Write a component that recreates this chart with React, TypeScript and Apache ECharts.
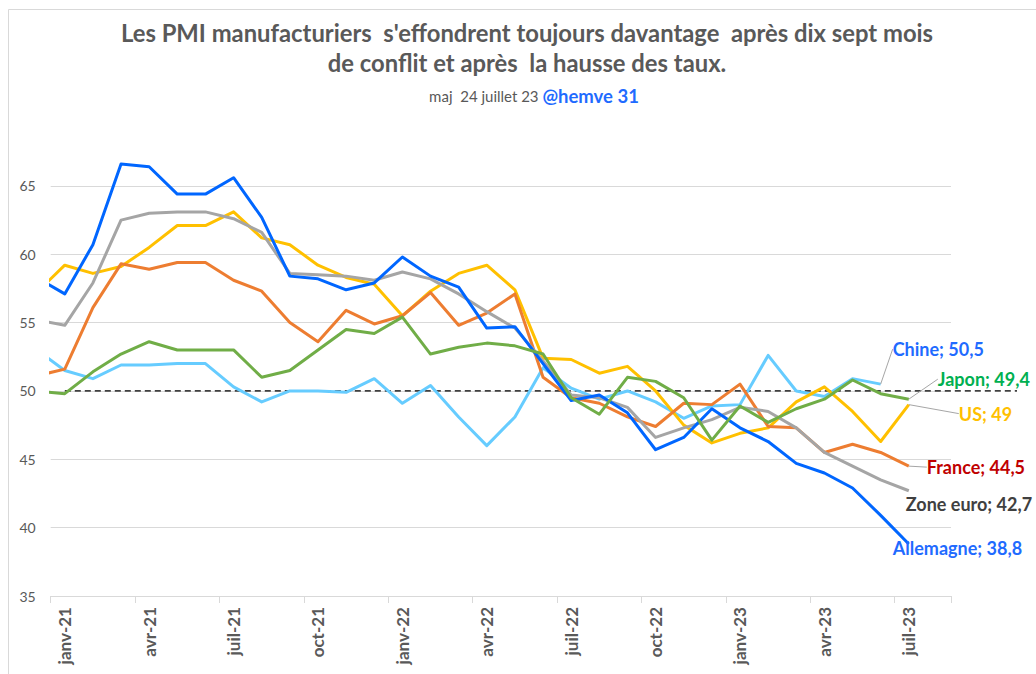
import React, { useEffect, useRef } from "react";
import * as echarts from "echarts";

const MONTHS = [
  "déc-20",
  "janv-21", "févr-21", "mars-21", "avr-21", "mai-21", "juin-21", "juil-21", "août-21", "sept-21", "oct-21", "nov-21", "déc-21",
  "janv-22", "févr-22", "mars-22", "avr-22", "mai-22", "juin-22", "juil-22", "août-22", "sept-22", "oct-22", "nov-22", "déc-22",
  "janv-23", "févr-23", "mars-23", "avr-23", "mai-23", "juin-23", "juil-23", "août-23",
];

const CHINE = [53.0, 51.5, 50.9, 51.9, 51.9, 52.0, 52.0, 50.3, 49.2, 50.0, 50.0, 49.9, 50.9, 49.1, 50.4, 48.1, 46.0, 48.1, 51.7, 50.2, 49.4, 50.0, 49.2, 48.0, 48.9, 49.0, 52.6, 50.0, 49.6, 50.9, 50.5, null];
const US = [57.2, 59.2, 58.6, 59.1, 60.5, 62.1, 62.1, 63.1, 61.2, 60.7, 59.2, 58.3, 57.8, 55.5, 57.3, 58.6, 59.2, 57.4, 52.4, 52.3, 51.3, 51.8, 50.0, 47.5, 46.2, 46.9, 47.3, 49.2, 50.3, 48.5, 46.3, 49.0];
const FRANCE = [51.1, 51.6, 56.1, 59.3, 58.9, 59.4, 59.4, 58.1, 57.3, 55.0, 53.6, 55.9, 54.9, 55.5, 57.2, 54.8, 55.7, 57.1, 51.0, 49.5, 49.1, 48.1, 47.4, 49.1, 49.0, 50.5, 47.4, 47.3, 45.5, 46.1, 45.5, 44.5];
const ZONE_EURO = [55.2, 54.8, 57.9, 62.5, 63.0, 63.1, 63.1, 62.6, 61.6, 58.6, 58.5, 58.4, 58.1, 58.7, 58.2, 57.1, 55.8, 54.6, 52.2, 49.7, 49.5, 48.8, 46.6, 47.3, 47.9, 48.8, 48.5, 47.3, 45.5, 44.5, 43.5, 42.7];
const ALLEMAGNE = [58.3, 57.1, 60.7, 66.6, 66.4, 64.4, 64.4, 65.6, 62.7, 58.4, 58.2, 57.4, 57.9, 59.8, 58.4, 57.6, 54.6, 54.7, 52.0, 49.3, 49.7, 48.4, 45.7, 46.6, 48.7, 47.3, 46.3, 44.7, 44.0, 42.9, 40.9, 38.8];
const JAPON = [50.0, 49.8, 51.4, 52.7, 53.6, 53.0, 53.0, 53.0, 51.0, 51.5, 53.0, 54.5, 54.2, 55.4, 52.7, 53.2, 53.5, 53.3, 52.7, 49.5, 48.3, 51.0, 50.7, 49.5, 46.4, 48.9, 47.7, 48.7, 49.4, 50.8, 49.8, 49.4];

const REF_LEVEL = [50, 50];
const Y_MIN = 35;
const Y_MAX = 68;
const Y_STEP = 5;

const FONT = "Lato, 'Open Sans', sans-serif";

type SeriesDef = {
  name: string;
  values: (number | null)[];
  color: string;
  labelColor: string;
  dx: number;
  dy: number;
  leader: boolean;
};

const SERIES: SeriesDef[] = [
  { name: "Chine", values: CHINE, color: "#66CCFF", labelColor: "#1F6BFF", dx: 12, dy: -35, leader: true },
  { name: "US", values: US, color: "#FFC000", labelColor: "#FFC000", dx: 50, dy: 9, leader: true },
  { name: "France", values: FRANCE, color: "#ED7D31", labelColor: "#C00000", dx: 18, dy: 1, leader: true },
  { name: "Zone euro", values: ZONE_EURO, color: "#A5A5A5", labelColor: "#404040", dx: -3, dy: 13, leader: false },
  { name: "Allemagne", values: ALLEMAGNE, color: "#0066FF", labelColor: "#1F6BFF", dx: -16, dy: 4, leader: false },
  { name: "Japon", values: JAPON, color: "#70AD47", labelColor: "#00B050", dx: 29, dy: -20, leader: true },
];

const fmt = (v: number) => String(v).replace(".", ",");

export default function App() {
  const ref = useRef<HTMLDivElement>(null);
  useEffect(() => {
    if (!ref.current) return;
    const chart = echarts.init(ref.current, null, { renderer: "svg" });
    const gridTop = 144.9;
    const gridBottom = 78;

    const lineSeries = SERIES.map((s) => {
      let last = -1;
      s.values.forEach((v, i) => {
        if (v !== null) last = i;
      });
      return {
        type: "line",
        name: s.name,
        xAxisIndex: 0,
        yAxisIndex: 0,
        clip: true,
        showSymbol: true,
        symbol: "circle",
        symbolSize: 0,
        lineStyle: { color: s.color, width: 3, join: "round" },
        itemStyle: { color: s.color },
        data: s.values.map((v, i) =>
          i === last
            ? {
                value: v,
                label: {
                  show: true,
                  position: "right",
                  distance: 0,
                  formatter: `${s.name}; ${fmt(v as number)}`,
                  color: s.labelColor,
                  fontFamily: FONT,
                  fontWeight: "bold",
                  fontSize: 18,
                },
                labelLine: {
                  show: s.leader,
                  lineStyle: { color: "#A6A6A6", width: 1 },
                },
              }
            : v
        ),
        labelLayout: { dx: s.dx, dy: s.dy, hideOverlap: false },
        emphasis: { disabled: true },
      };
    });

    chart.setOption({
      animation: false,
      backgroundColor: "#ffffff",
      title: [
        {
          text:
            "Les PMI manufacturiers  s'effondrent toujours davantage  après dix sept mois\nde conflit et après  la hausse des taux.",
          left: 522,
          top: 13,
          padding: 5,
          textAlign: "center",
          textStyle: {
            fontFamily: FONT,
            fontWeight: "bold",
            fontSize: 23.8,
            lineHeight: 30,
            color: "#595959",
          },
        },
        {
          text: "{a|maj  24 juillet 23 }{b|@hemve 31}",
          left: 529,
          top: 81,
          padding: 5,
          textAlign: "center",
          textStyle: {
            rich: {
              a: { fontFamily: FONT, fontSize: 15, fontWeight: "normal", color: "#595959" },
              b: { fontFamily: FONT, fontSize: 18.5, fontWeight: "bold", color: "#1F6BFF" },
            },
          },
        },
      ],
      graphic: [
        {
          type: "rect",
          shape: { x: 8.5, y: 9.5, width: 1100, height: 700 },
          style: { fill: "none", stroke: "#D9D9D9", lineWidth: 1 },
          silent: true,
        },
      ],
      grid: [
        { left: 50.7, right: 85, top: gridTop, bottom: gridBottom },
        { left: 64.8, right: 19, top: gridTop, bottom: gridBottom },
      ],
      xAxis: [
        {
          type: "category",
          gridIndex: 0,
          data: MONTHS,
          min: 1,
          max: MONTHS.length - 1,
          boundaryGap: true,
          axisLine: { show: true, lineStyle: { color: "#D9D9D9", width: 1 } },
          axisTick: {
            show: true,
            length: 7,
            interval: (idx: number) => (idx - 1) % 3 === 0,
            lineStyle: { color: "#D9D9D9" },
          },
          axisLabel: {
            interval: (idx: number) => (idx - 1) % 3 === 0,
            rotate: 90,
            margin: 11,
            fontFamily: FONT,
            fontWeight: "bold",
            fontSize: 17,
            color: "#595959",
          },
          splitLine: { show: false },
        },
        {
          type: "value",
          gridIndex: 1,
          min: 0,
          max: 1,
          show: false,
        },
      ],
      yAxis: [
        {
          type: "value",
          gridIndex: 0,
          min: Y_MIN,
          max: Y_MAX,
          interval: Y_STEP,
          axisLine: { show: false },
          axisTick: { show: false },
          axisLabel: {
            showMaxLabel: false,
            margin: 15,
            fontFamily: FONT,
            fontSize: 14,
            color: "#595959",
          },
          splitLine: {
            show: true,
            showMaxLine: false,
            lineStyle: { color: "#D9D9D9", width: 1 },
          },
        },
        {
          type: "value",
          gridIndex: 1,
          min: Y_MIN,
          max: Y_MAX,
          show: false,
        },
      ],
      series: [
        {
          type: "line",
          name: "Référence 50",
          xAxisIndex: 1,
          yAxisIndex: 1,
          showSymbol: false,
          lineStyle: { color: "#404040", width: 1.75, type: [6, 4] },
          data: REF_LEVEL.map((v, i) => [i, v]),
          z: 1,
          emphasis: { disabled: true },
        },
        ...lineSeries,
      ],
    });
    return () => chart.dispose();
  }, []);
  return (
    <div
      ref={ref}
      style={{ position: "absolute", left: 0, top: 0, width: 1036, height: 674 }}
    />
  );
}
